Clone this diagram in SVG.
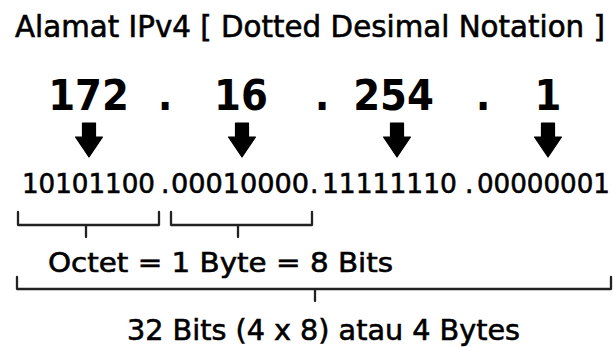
<svg xmlns="http://www.w3.org/2000/svg" width="613" height="347" viewBox="0 0 613 347">
<defs>
<style>
.t{font-family:"DejaVu Sans","Liberation Sans",sans-serif;fill:#000;stroke:#000;stroke-width:0.6}
.num{font-family:"DejaVu Sans","Liberation Sans",sans-serif;font-weight:bold;font-size:43px;fill:#000;text-anchor:middle}
.bin{font-size:26.5px}
.br{fill:none;stroke:#222;stroke-width:2.3;stroke-linejoin:round;stroke-linecap:round}
.ar{fill:#000;stroke:#000;stroke-width:1.2;stroke-linejoin:round}
</style>
<polygon id="arrow" points="-6.5,0 6.5,0 6.5,14 13.5,14 0,34 -13.5,14 -6.5,14"/>
</defs>
<rect width="613" height="347" fill="#fff"/>

<g id="title">
<text class="t" x="15" y="37" font-size="29.5" textLength="590" lengthAdjust="spacingAndGlyphs">Alamat IPv4 [ Dotted Desimal Notation ]</text>
</g>

<g id="decimal">
<text class="num" transform="translate(88.5,110) scale(0.9,1)">172</text>
<text class="num" transform="translate(165,110) scale(0.9,1)">.</text>
<text class="num" transform="translate(241,110) scale(0.9,1)">16</text>
<text class="num" transform="translate(322,110) scale(0.9,1)">.</text>
<text class="num" transform="translate(393.5,110) scale(0.9,1)">254</text>
<text class="num" transform="translate(483,110) scale(0.9,1)">.</text>
<text class="num" transform="translate(548,110) scale(0.9,1)">1</text>
</g>

<g id="connectors">
<use href="#arrow" class="ar" transform="translate(89,123)"/>
<use href="#arrow" class="ar" transform="translate(242,123)"/>
<use href="#arrow" class="ar" transform="translate(397,123)"/>
<use href="#arrow" class="ar" transform="translate(548,123)"/>
</g>

<g id="binary">
<text class="t bin" y="193"><tspan x="22" textLength="133" lengthAdjust="spacingAndGlyphs">10101100</tspan><tspan x="161">.</tspan><tspan x="171" textLength="138" lengthAdjust="spacingAndGlyphs">00010000</tspan><tspan x="310">.</tspan><tspan x="322" textLength="135" lengthAdjust="spacingAndGlyphs">11111110</tspan><tspan x="465">.</tspan><tspan x="477" textLength="133" lengthAdjust="spacingAndGlyphs">00000001</tspan></text>
</g>

<g id="octet-brackets">
<path class="br" d="M18,212 V225 H159 V212 M86,225 V237"/>
<path class="br" d="M171,212 V225 H312 V212 M238,225 V237"/>
</g>

<g id="octet-label">
<text class="t" x="48" y="272" font-size="27" textLength="345" lengthAdjust="spacingAndGlyphs">Octet = 1 Byte = 8 Bits</text>
</g>

<g id="total-bracket">
<path class="br" d="M17,277 V289 H611 V277 M315,289 V301"/>
</g>

<g id="total-label">
<text class="t" x="127" y="340" font-size="28.5" textLength="393" lengthAdjust="spacingAndGlyphs">32 Bits (4 x 8) atau 4 Bytes</text>
</g>
</svg>
